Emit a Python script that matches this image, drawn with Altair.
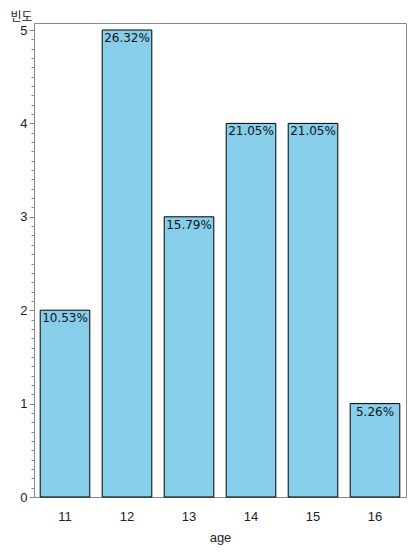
import altair as alt
import pandas as pd

ages = ["11", "12", "13", "14", "15", "16"]
counts = [2, 5, 3, 4, 4, 1]
pct_labels = ["10.53%", "26.32%", "15.79%", "21.05%", "21.05%", "5.26%"]
y_minor = [round(i * 0.1, 1) for i in range(0, 51)]

df = pd.DataFrame({"age": ages, "count": counts, "pct": pct_labels})

FONT = "Liberation Sans"
IS_MAJOR = "abs(datum.value - round(datum.value)) < 0.001"

x_enc = alt.X("age:N", sort=ages,
              scale=alt.Scale(paddingInner=0.2, paddingOuter=0.1),
              axis=alt.Axis(title="age", labelAngle=0, ticks=False, tickSize=0,
                            labelPadding=13, labelFontSize=13, labelFont=FONT,
                            labelColor="#222222", domainColor="#888888",
                            titleFont=FONT, titleFontSize=13, titleFontWeight="normal",
                            titleColor="#222222", titleY=44, titleBaseline="alphabetic"))
y_scale = alt.Scale(domain=[0, 5.075], nice=False, zero=True)

bars = alt.Chart(df).mark_bar(fill="#87CEEB", stroke="#000000", strokeWidth=1).encode(
    x=x_enc,
    y=alt.Y("count:Q", scale=y_scale,
            axis=alt.Axis(values=y_minor, tickCount=200, grid=False,
                          labelExpr=IS_MAJOR + " ? format(datum.value, 'd') : ''",
                          tickSize={"condition": {"test": IS_MAJOR, "value": 5}, "value": 3},
                          tickColor="#888888", domainColor="#888888",
                          labelPadding=2, labelFontSize=13, labelFont=FONT,
                          labelColor="#222222", labelOverlap=False, labelFlush=False,
                          title="빈도", titleAngle=0, titleAlign="left",
                          titleBaseline="middle", titleX=-24, titleY=-6.5,
                          titleFont="Noto Sans CJK KR", titleFontSize=12,
                          titleFontWeight="normal", titleColor="#222222")),
)

text = alt.Chart(df).mark_text(baseline="top", dy=3, fontSize=12, font="DejaVu Sans",
                               color="#111111").encode(
    x=alt.X("age:N", sort=ages),
    y=alt.Y("count:Q", scale=y_scale),
    text="pct:N",
)

chart = alt.layer(bars, text).properties(
    width=372, height=474,
    padding={"left": 26, "top": 15, "right": 1, "bottom": 48},
    autosize=alt.AutoSizeParams(type="none"),
).configure_view(stroke="#888888", strokeWidth=1)

chart.save("out.html", embed_options={"renderer": "svg", "actions": False})
